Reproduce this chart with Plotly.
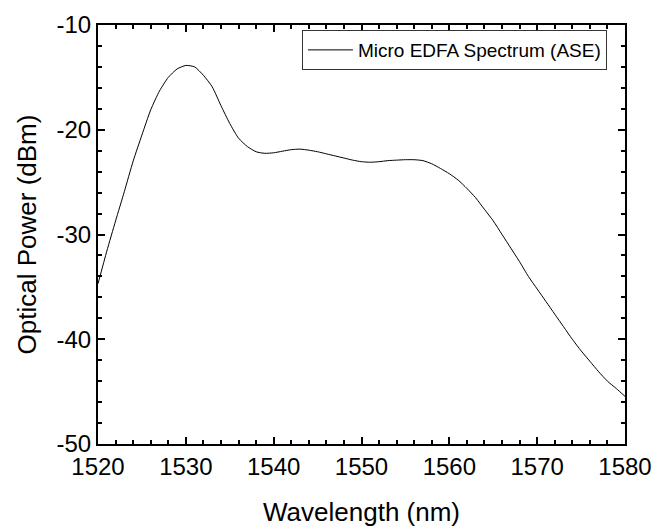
import plotly.graph_objects as go

wavelength = list(range(1520, 1581))
power = [-34.7, -31.6, -28.7, -25.9, -23.0, -20.5, -18.1, -16.3, -15.0, -14.2,
         -13.86, -14.0, -14.8, -15.9, -17.7, -19.4, -20.8, -21.6, -22.1, -22.25,
         -22.2, -22.05, -21.9, -21.85, -21.95, -22.1, -22.3, -22.5, -22.7, -22.9,
         -23.05, -23.1, -23.05, -22.95, -22.9, -22.86, -22.86, -22.95, -23.25, -23.7,
         -24.2, -24.8, -25.6, -26.5, -27.6, -28.7, -30.0, -31.3, -32.6, -34.0,
         -35.2, -36.4, -37.6, -38.8, -40.0, -41.1, -42.1, -43.1, -44.0, -44.7,
         -45.45]

x_ticks = [1520, 1530, 1540, 1550, 1560, 1570, 1580]
y_ticks = [-50, -40, -30, -20, -10]

fig = go.Figure()
fig.add_trace(go.Scatter(
    x=wavelength, y=power, mode="lines",
    line=dict(color="black", width=1, shape="spline", smoothing=0.6),
    name="Micro EDFA Spectrum (ASE)",
))

font_family = "Liberation Sans, Arial, sans-serif"
axis_common = dict(
    showline=True, linecolor="black", linewidth=2, mirror="allticks",
    ticks="inside", ticklen=7, tickwidth=2, tickcolor="black",
    showgrid=False, zeroline=False, automargin=False,
    tickfont=dict(family=font_family, size=24, color="black"),
)

fig.update_xaxes(
    range=[1520, 1580], tickvals=x_ticks, ticktext=[str(v) for v in x_ticks],
    title=dict(text="Wavelength (nm)", font=dict(family=font_family, size=26, color="black"), standoff=24),
    minor=dict(ticks="inside", ticklen=4, tickwidth=1.5, tickcolor="black", dtick=2),
    **axis_common,
)
fig.update_yaxes(
    range=[-50, -10], tickvals=y_ticks, ticktext=[str(v) for v in y_ticks],
    title=dict(text="Optical Power (dBm)", font=dict(family=font_family, size=26, color="black"), standoff=12),
    minor=dict(ticks="inside", ticklen=4, tickwidth=1.5, tickcolor="black", dtick=2),
    **axis_common,
)

fig.update_layout(
    width=656, height=527,
    margin=dict(l=98, r=31, t=25, b=83, autoexpand=False),
    plot_bgcolor="white", paper_bgcolor="white",
    showlegend=True,
    legend=dict(
        x=0.387, y=0.988, xanchor="left", yanchor="top",
        bgcolor="white", bordercolor="#333333", borderwidth=1,
        font=dict(family=font_family, size=19, color="black"),
        tracegroupgap=0, itemwidth=45,
    ),
    font=dict(family=font_family, color="black"),
)

fig.write_html("out.html")
